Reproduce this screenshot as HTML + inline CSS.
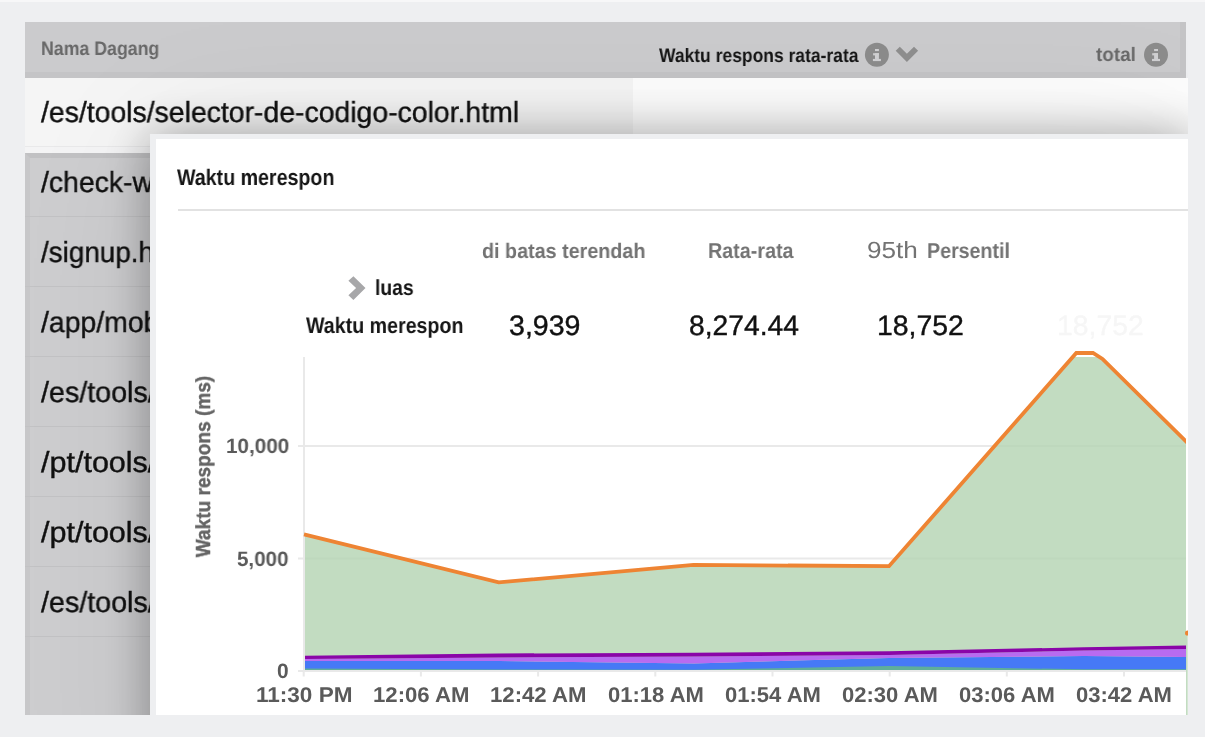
<!DOCTYPE html>
<html><head><meta charset="utf-8"><title>Waktu merespon</title>
<style>
html,body{margin:0;padding:0}
body{width:1205px;height:737px;overflow:hidden;background:#eeeff1;position:relative;font-family:"Liberation Sans",sans-serif}
.abs{position:absolute}
.t{position:absolute;will-change:transform;text-rendering:geometricPrecision;white-space:pre;line-height:1;transform-origin:0 0;font-family:"Liberation Sans",sans-serif}
#clip{position:absolute;left:25px;top:22px;width:1163px;height:693px;overflow:hidden}
#clip .in{position:absolute;left:-25px;top:-22px;width:1205px;height:737px}
#popup{position:absolute;left:150px;top:134px;width:1044px;height:700px;box-sizing:border-box;border:6px solid #eeeff1;border-top-width:5px;background:#fff;box-shadow:0 0 45px rgba(0,0,0,.33),0 0 140px rgba(0,0,0,.07)}
.sep{position:absolute;left:25px;width:1163px;height:1px;background:#c2c2c4}
</style></head>
<body>
<div class="abs" style="left:0;top:0;width:1205px;height:2px;background:#f7f7f8"></div>
<div id="clip"><div class="in">
  <!-- header -->
  <div class="abs" style="left:25px;top:22px;width:1161px;height:56px;background:#c4c4c6"></div>
  <div class="abs" style="left:25px;top:22px;width:1155px;height:50px;background:#cbcbcd"></div>
  <!-- first row -->
  <div class="abs" style="left:25px;top:78px;width:608px;height:68px;background:#f5f5f5"></div>
  <div class="abs" style="left:633px;top:78px;width:555px;height:68px;background:#fdfdfd"></div>
  <div class="abs" style="left:25px;top:146px;width:1163px;height:1px;background:#e9e9ea"></div>
  <div class="abs" style="left:25px;top:147px;width:1163px;height:6px;background:#f4f4f5"></div>
  <!-- gray rows -->
  <div class="abs" style="left:25px;top:153px;width:1163px;height:570px;background:#cdcdcf;box-sizing:border-box;border-top:5px solid #c1c1c3;border-left:5px solid #c7c7c9"></div>
  <div class="sep" style="top:216px"></div><div class="sep" style="top:286px"></div><div class="sep" style="top:356px"></div>
  <div class="sep" style="top:426px"></div><div class="sep" style="top:496px"></div><div class="sep" style="top:566px"></div><div class="sep" style="top:636px"></div>
  <!-- header icons -->
  <svg class="abs" style="left:0;top:0" width="1205" height="100" viewBox="0 0 1205 100">
    <g id="info1" transform="translate(876.9,54.85)">
      <circle r="12" fill="#8c8c8c"/>
      <g fill="#d0d0d2"><rect x="-1.9" y="-5.85" width="3.9" height="2.1"/><rect x="-3.8" y="-1.65" width="5.8" height="2.2"/><rect x="-1.9" y="-1.65" width="3.9" height="5.8"/><rect x="-4" y="4.05" width="8" height="2.2"/></g>
    </g>
    <g transform="translate(1156,54.85)">
      <circle r="12" fill="#8c8c8c"/>
      <g fill="#d0d0d2"><rect x="-1.9" y="-5.85" width="3.9" height="2.1"/><rect x="-3.8" y="-1.65" width="5.8" height="2.2"/><rect x="-1.9" y="-1.65" width="3.9" height="5.8"/><rect x="-4" y="4.05" width="8" height="2.2"/></g>
    </g>
    <polygon fill="#8f8f8f" points="899.8,46.7 895.7,50.8 906.9,61.9 918.1,50.8 914,46.7 906.9,53.8"/>
  </svg>
<span class="t" style="left:41.20px;top:40.09px;font-size:19.5px;font-weight:700;color:#696969;transform:scaleX(0.9101)">Nama Dagang</span>
<span class="t" style="left:659.04px;top:46.99px;font-size:19.5px;font-weight:700;color:#161616;transform:scaleX(0.8963)">Waktu respons rata-rata</span>
<span class="t" style="left:1095.85px;top:45.59px;font-size:19.5px;font-weight:700;color:#696969;transform:scaleX(0.9670)">total</span>
<span class="t" style="left:41.00px;top:99.15px;font-size:29px;font-weight:400;color:#111;-webkit-text-stroke:0.4px #111;transform:scaleX(0.9789)">/es/tools/selector-de-codigo-color.html</span>
<span class="t" style="left:41.00px;top:169.15px;font-size:29px;font-weight:400;color:#111;-webkit-text-stroke:0.4px #111;transform:scaleX(0.9789)">/check-website-color.html</span>
<span class="t" style="left:41.00px;top:239.15px;font-size:29px;font-weight:400;color:#111;-webkit-text-stroke:0.4px #111;transform:scaleX(0.9593)">/signup.html</span>
<span class="t" style="left:41.00px;top:309.15px;font-size:29px;font-weight:400;color:#111;-webkit-text-stroke:0.4px #111;transform:scaleX(0.9789)">/app/mobile/index.html</span>
<span class="t" style="left:41.00px;top:379.15px;font-size:29px;font-weight:400;color:#111;-webkit-text-stroke:0.4px #111;transform:scaleX(0.9887)">/es/tools/</span>
<span class="t" style="left:41.00px;top:449.15px;font-size:29px;font-weight:400;color:#111;-webkit-text-stroke:0.4px #111;transform:scaleX(1.0523)">/pt/tools/</span>
<span class="t" style="left:41.00px;top:519.15px;font-size:29px;font-weight:400;color:#111;-webkit-text-stroke:0.4px #111;transform:scaleX(1.0523)">/pt/tools/</span>
<span class="t" style="left:41.00px;top:589.15px;font-size:29px;font-weight:400;color:#111;-webkit-text-stroke:0.4px #111;transform:scaleX(0.9887)">/es/tools/</span>
  <div id="popup"></div>
  <div class="abs" style="left:178px;top:209px;width:1020px;height:2px;background:#e2e2e2"></div>
  <svg class="abs" style="left:0;top:0" width="1205" height="737" viewBox="0 0 1205 737">
    <!-- chevron -->
    <polygon fill="#a7a7a9" points="353.4,276.3 365.5,287.9 353.4,299.9 348.4,295.2 356.1,287.9 348.4,280.8"/>
    <!-- grid -->
    <g fill="#e9e9e9">
      <rect x="298" y="445" width="888" height="2"/>
      <rect x="298" y="557.5" width="888" height="2"/>
      <rect x="298" y="670" width="888" height="2"/>
      <rect x="303" y="357" width="2" height="315"/>
      <rect x="302.7" y="671" width="2" height="5.5"/><rect x="419.9" y="671" width="2" height="5.5"/><rect x="537.1" y="671" width="2" height="5.5"/><rect x="654.3" y="671" width="2" height="5.5"/><rect x="771.5" y="671" width="2" height="5.5"/><rect x="888.7" y="671" width="2" height="5.5"/><rect x="1005.8" y="671" width="2" height="5.5"/><rect x="1123.0" y="671" width="2" height="5.5"/>
    </g>
    <!-- areas -->
    <polygon fill="rgba(179,211,178,.8)" points="305,534.5 498.7,582.5 693.5,565 889,566.3 1073,357 1100,357 1186,441.5 1186,670 305,670"/>
    <polygon fill="#5fae9a" points="305,663 499,665 694,666 889,664 1084,667 1186,667 1186,670 305,670"/>
    <polygon fill="#4679f6" points="305,661 499,661 694,663.5 889,657.9 1084,656 1186,657 1186,669.3 1084,669.3 889,666.1 694,669.8 499,669.5 305,668.5"/>
    <polygon fill="#b86bf0" points="305,659 499,657.5 694,656.5 889,654.9 1084,650.5 1186,649 1186,657 1084,656 889,657.9 694,663.5 499,661 305,661"/>
    <polygon fill="#8a05a8" points="305,655.8 499,653.5 694,652.8 889,651.2 1084,647.3 1186,645.4 1186,649 1084,650.5 889,654.9 694,656.5 499,657.5 305,659"/>
    <rect x="1186" y="634" width="1.7" height="90" fill="#c2dcc1"/>
    <circle cx="1187.6" cy="633" r="2.6" fill="#ee8433"/>
    <clipPath id="cp"><rect x="302" y="340" width="884" height="340"/></clipPath><polyline clip-path="url(#cp)" fill="none" stroke="#ee8433" stroke-width="3.8" stroke-linejoin="miter" points="304,534.3 498.7,582.4 693.5,564.9 889,566.2 1076.3,353 1093,353 1102.5,359 1196,451.2"/>
  </svg>
  <!-- rotated axis title -->
  <span class="t" id="ytitle" style="left:0;top:0;font-size:20.5px;font-weight:700;color:#646464;-webkit-text-stroke:0.4px #646464;transform:translate(194px,557.3px) rotate(-90deg) scaleX(0.93)">Waktu respons (ms)</span>
<span class="t" style="left:177.14px;top:166.77px;font-size:22.6px;font-weight:700;color:#161616;transform:scaleX(0.8686)">Waktu merespon</span>
<span class="t" style="left:482.06px;top:241.81px;font-size:20.9px;font-weight:700;color:#737373;transform:scaleX(0.9449)">di batas terendah</span>
<span class="t" style="left:708.18px;top:239.62px;font-size:21.6px;font-weight:700;color:#737373;transform:scaleX(0.9140)">Rata-rata</span>
<span class="t" style="left:867.27px;top:238.69px;font-size:23.4px;font-weight:400;color:#737373;transform:scaleX(1.1171)">95th</span>
<span class="t" style="left:926.98px;top:239.62px;font-size:21.6px;font-weight:700;color:#737373;transform:scaleX(0.9088)">Persentil</span>
<span class="t" style="left:374.95px;top:277.45px;font-size:21.8px;font-weight:700;color:#161616;transform:scaleX(0.8870)">luas</span>
<span class="t" style="left:306.35px;top:315.04px;font-size:22.4px;font-weight:700;color:#161616;transform:scaleX(0.8765)">Waktu merespon</span>
<span class="t" style="left:509.44px;top:311.90px;font-size:28px;font-weight:400;color:#111;-webkit-text-stroke:0.4px #111;transform:scaleX(1.0200)">3,939</span>
<span class="t" style="left:688.90px;top:311.90px;font-size:28px;font-weight:400;color:#111;-webkit-text-stroke:0.4px #111;transform:scaleX(1.0088)">8,274.44</span>
<span class="t" style="left:876.81px;top:311.90px;font-size:28px;font-weight:400;color:#111;-webkit-text-stroke:0.4px #111;transform:scaleX(1.0145)">18,752</span>
<span class="t" style="left:1056.81px;top:311.90px;font-size:28px;font-weight:400;color:#f6f6f6;-webkit-text-stroke:0.4px #f6f6f6;transform:scaleX(1.0120)">18,752</span>
<span class="t" style="left:225.68px;top:437.31px;font-size:20.9px;font-weight:700;color:#5a5a5a;transform:scaleX(0.9893)">10,000</span>
<span class="t" style="left:237.36px;top:550.31px;font-size:20.9px;font-weight:700;color:#5a5a5a;transform:scaleX(0.9838)">5,000</span>
<span class="t" style="left:276.89px;top:662.11px;font-size:20.9px;font-weight:700;color:#5a5a5a;transform:scaleX(0.9621)">0</span>
<span class="t" style="left:256.16px;top:685.37px;font-size:21.3px;font-weight:700;color:#5a5a5a;transform:scaleX(1.0584)">11:30 PM</span>
<span class="t" style="left:373.18px;top:685.37px;font-size:21.3px;font-weight:700;color:#5a5a5a;transform:scaleX(1.0406)">12:06 AM</span>
<span class="t" style="left:490.18px;top:685.37px;font-size:21.3px;font-weight:700;color:#5a5a5a;transform:scaleX(1.0406)">12:42 AM</span>
<span class="t" style="left:607.70px;top:685.37px;font-size:21.3px;font-weight:700;color:#5a5a5a;transform:scaleX(1.0349)">01:18 AM</span>
<span class="t" style="left:724.70px;top:685.37px;font-size:21.3px;font-weight:700;color:#5a5a5a;transform:scaleX(1.0349)">01:54 AM</span>
<span class="t" style="left:841.70px;top:685.37px;font-size:21.3px;font-weight:700;color:#5a5a5a;transform:scaleX(1.0349)">02:30 AM</span>
<span class="t" style="left:958.70px;top:685.37px;font-size:21.3px;font-weight:700;color:#5a5a5a;transform:scaleX(1.0349)">03:06 AM</span>
<span class="t" style="left:1075.70px;top:685.37px;font-size:21.3px;font-weight:700;color:#5a5a5a;transform:scaleX(1.0349)">03:42 AM</span>
</div></div>
</body></html>
